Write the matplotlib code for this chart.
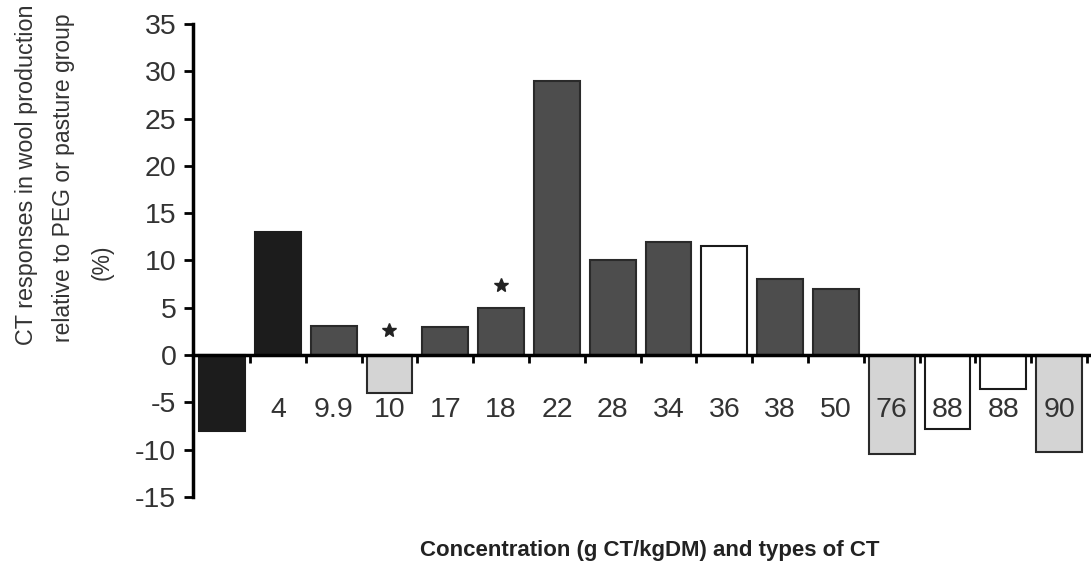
import matplotlib
matplotlib.use("Agg")
import matplotlib.pyplot as plt
import numpy as np

# data
labels = ["", "4", "9.9", "10", "17", "18", "22", "28", "34", "36", "38", "50",
          "76", "88", "88", "90"]
values = [-8, 13, 3.1, -4, 3, 5, 29, 10, 12, 11.5, 8, 7, -10.5, -7.8, -3.6, -10.2]
kinds = ["dark", "dark", "mid", "light", "mid", "mid", "mid", "mid", "mid",
         "white", "mid", "mid", "light", "white", "white", "light"]
star_pos = [3, 5]
star_y = [2.6, 7.4]

fills = {"dark": "#1c1c1c", "mid": "#4d4d4d", "light": "#d4d4d4", "white": "#ffffff"}
edges = {"dark": "#1c1c1c", "mid": "#2a2a2a", "light": "#2a2a2a", "white": "#1a1a1a"}

txt = "#333333"
plt.rcParams["font.family"] = ["Liberation Sans", "DejaVu Sans"]
plt.rcParams["axes.unicode_minus"] = False

fig = plt.figure(figsize=(10.91, 5.81), dpi=100)
ax = fig.add_axes([0.1769, 0.1446, 0.8231, 0.8141])
ax.set_axisbelow(False)  # category labels sit on top of the bars

x = np.arange(len(values))
ax.bar(x, values, width=0.82,
       color=[fills[k] for k in kinds],
       edgecolor=[edges[k] for k in kinds], linewidth=1.5, zorder=2)

ax.plot(star_pos, star_y, ls="none", marker="*", ms=10, color="#222222", zorder=3)

ax.set_xlim(-0.52, 15.57)
ax.set_ylim(-15, 35)
ax.set_yticks(np.arange(-15, 36, 5))

# zero line carries the category ticks
ax.spines["top"].set_visible(False)
ax.spines["right"].set_visible(False)
ax.spines["bottom"].set_position(("data", 0))
ax.spines["bottom"].set_linewidth(2.5)
ax.spines["left"].set_linewidth(2.5)

ax.set_xticks(x)
ax.set_xticklabels(labels)
ax.set_xticks(x + 0.5, minor=True)
ax.tick_params(axis="x", which="major", length=0, pad=30, labelsize=20.5,
               labelcolor=txt)
ax.tick_params(axis="x", which="minor", direction="out", length=6, width=2)
ax.tick_params(axis="y", direction="out", length=6.5, width=2, pad=5.5,
               labelsize=20.5, labelcolor=txt)

# y axis title, three lines
fig.text(0.024, 0.70, "CT responses in wool production", rotation=90,
         ha="center", va="center", fontsize=16.8, color=txt)
fig.text(0.058, 0.695, "relative to PEG or pasture group", rotation=90,
         ha="center", va="center", fontsize=16.5, color=txt)
fig.text(0.094, 0.549, "(%)", rotation=90,
         ha="center", va="center", fontsize=16.5, color=txt)

fig.text(0.596, 0.053, "Concentration (g CT/kgDM) and types of CT",
         ha="center", va="center", fontsize=16, fontweight="bold",
         color="#222222")

fig.savefig("out.png", dpi=100)
